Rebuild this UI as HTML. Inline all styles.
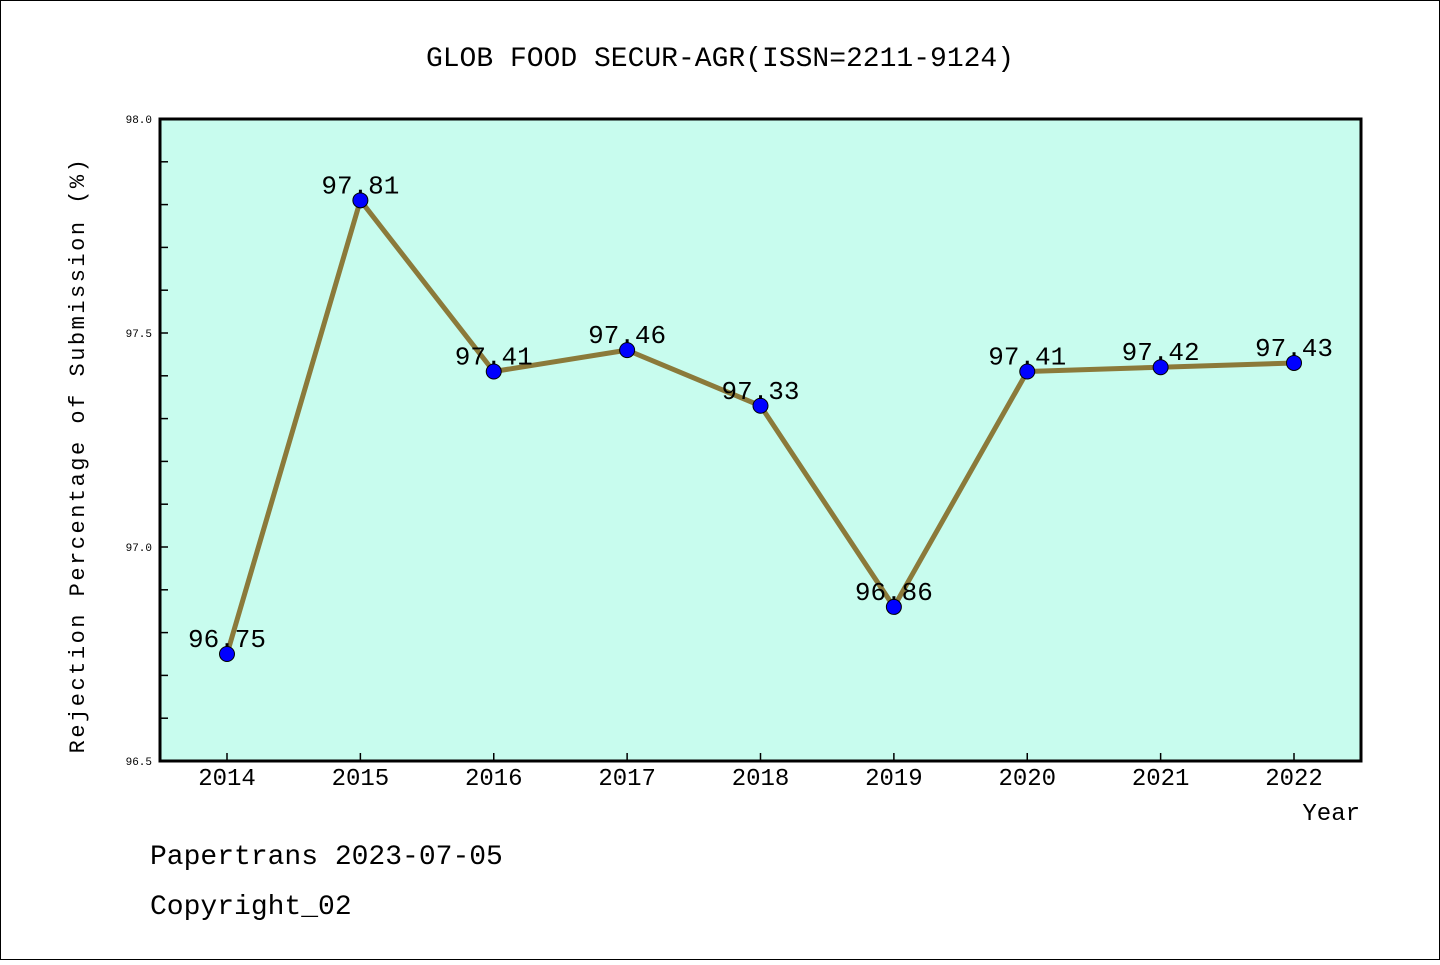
<!DOCTYPE html>
<html><head><meta charset="utf-8"><style>
body{margin:0;background:#fff}
svg text{font-family:"Liberation Mono","DejaVu Sans Mono",monospace}
</style></head><body>
<svg width="1440" height="960">
<rect x="0.5" y="0.5" width="1439" height="959" fill="#fff" stroke="#000"/>
<text x="720" y="66" font-size="28" text-anchor="middle">GLOB FOOD SECUR-AGR(ISSN=2211-9124)</text>
<rect x="160" y="119" width="1201" height="642" fill="#c8fcee"/>
<g id="axes"></g>
<g id="series"></g>
<rect x="160" y="119" width="1201" height="642" fill="none" stroke="#000" stroke-width="3"/>
<text x="84" y="455" font-size="22" letter-spacing="2.5" text-anchor="middle" transform="rotate(-90 84 455)">Rejection Percentage of Submission (%)</text>
<text x="1360" y="820" font-size="24" text-anchor="end">Year</text>
<text x="150" y="864" font-size="28">Papertrans 2023-07-05</text>
<text x="150" y="914" font-size="28">Copyright_02</text>
</svg>
<script>
const years=["2014","2015","2016","2017","2018","2019","2020","2021","2022"];
const values=[96.75,97.81,97.41,97.46,97.33,96.86,97.41,97.42,97.43];
const yTickLabels=["96.5","97.0","97.5","98.0"];
const NS="http://www.w3.org/2000/svg";
const yMin=96.5,yMax=98.0;
function xs(i){return 227+i*(1294-227)/8;}
function ys(v){return 761-(v-yMin)/(yMax-yMin)*642;}
function mk(t,a,p){const e=document.createElementNS(NS,t);for(const k in a)e.setAttribute(k,a[k]);p.appendChild(e);return e;}
const ax=document.getElementById('axes'),sr=document.getElementById('series');
for(let k=0;k<=15;k++){const v=yMin+k*0.1;const y=ys(v);
 const t=mk('line',{x1:160,x2:168,y1:y,y2:y,stroke:'#000','stroke-width':1.5},ax);
 
 }
yTickLabels.forEach(l=>{const t=mk('text',{x:152,y:ys(parseFloat(l))+4,'font-size':11,'text-anchor':'end'},ax);t.textContent=l;
 
 });
years.forEach((yr,i)=>{const x=xs(i);
 const t=mk('line',{x1:x,x2:x,y1:761,y2:753,stroke:'#000','stroke-width':1.5},ax);
 
 
 const l=mk('text',{x:x,y:785,'font-size':24,'text-anchor':'middle'},ax);l.textContent=yr;
 
 });
const pl=mk('polyline',{points:values.map((v,i)=>xs(i)+','+ys(v)).join(' '),fill:'none',stroke:'#8b7a3a','stroke-width':5,'stroke-linejoin':'round'},sr);


values.forEach((v,i)=>{
 const c=mk('circle',{cx:xs(i),cy:ys(v),r:7.5,fill:'#0000ff',stroke:'#000','stroke-width':1},sr);
 
 
 const t=mk('text',{x:xs(i),y:ys(v)-7,'font-size':26,'text-anchor':'middle'},sr);t.textContent=v.toFixed(2);
 
 });
</script>
</body></html>
